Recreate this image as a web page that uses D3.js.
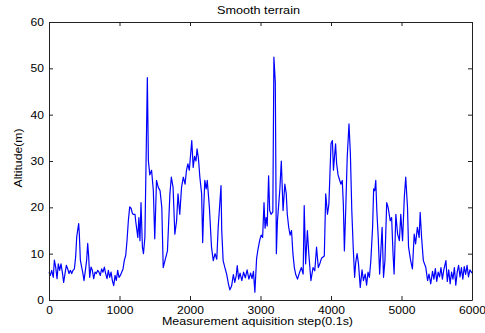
<!DOCTYPE html>
<html>
<head>
<meta charset="utf-8">
<script src="https://cdn.jsdelivr.net/npm/d3@7"></script>
<style>
  body { margin: 0; background: #fff; }
  text { font-family: "Liberation Sans", Arial, sans-serif; fill: #000; }
</style>
</head>
<body>
<script>
const width = 485;
const height = 333;
const margin = {left: 49, right: 13, top: 22, bottom: 33};

const title = "Smooth terrain";
const x_label = "Measurement aquisition step(0.1s)";
const y_label = "Altitude(m)";
const x_ticks = [0, 1000, 2000, 3000, 4000, 5000, 6000];
const y_ticks = [0, 10, 20, 30, 40, 50, 60];

const steps = [
  0, 19, 38, 61, 76, 95, 114, 132, 151, 170, 189, 208, 227, 246, 265, 284, 303, 322, 341, 360,
  378, 393, 407, 421, 430, 445, 463, 478, 497, 516, 534, 549, 563, 577, 596, 615, 634, 653, 672, 690,
  709, 728, 747, 766, 785, 804, 823, 842, 861, 880, 899, 918, 937, 955, 974, 993, 1012, 1031, 1050, 1069,
  1088, 1107, 1126, 1145, 1164, 1183, 1195, 1220, 1230, 1260, 1275, 1290, 1305, 1325, 1340, 1360, 1375, 1395, 1410, 1430,
  1455, 1480, 1500, 1525, 1550, 1575, 1600, 1620, 1645, 1680, 1715, 1735, 1760, 1785, 1810, 1830, 1855, 1880, 1905, 1930,
  1950, 1970, 1990, 2025, 2045, 2065, 2085, 2100, 2120, 2140, 2165, 2180, 2195, 2210, 2230, 2245, 2275, 2305, 2330, 2355,
  2380, 2400, 2440, 2450, 2470, 2495, 2520, 2545, 2565, 2590, 2615, 2635, 2655, 2670, 2690, 2710, 2735, 2760, 2785, 2810,
  2835, 2860, 2880, 2900, 2920, 2945, 2965, 2990, 3010, 3030, 3050, 3065, 3080, 3095, 3115, 3130, 3150, 3175, 3190, 3210,
  3225, 3240, 3255, 3275, 3295, 3320, 3345, 3365, 3380, 3400, 3420, 3440, 3460, 3480, 3500, 3525, 3555, 3580, 3605, 3620,
  3640, 3665, 3685, 3715, 3745, 3770, 3795, 3820, 3845, 3865, 3905, 3925, 3950, 3970, 4000, 4020, 4035, 4050, 4065, 4080,
  4100, 4120, 4140, 4160, 4175, 4190, 4210, 4230, 4255, 4275, 4295, 4315, 4335, 4350, 4370, 4390, 4415, 4440, 4460, 4485,
  4505, 4525, 4545, 4565, 4590, 4605, 4620, 4635, 4650, 4670, 4690, 4710, 4725, 4745, 4765, 4790, 4810, 4840, 4860, 4880,
  4895, 4920, 4945, 4970, 4990, 5015, 5040, 5060, 5085, 5100, 5130, 5155, 5180, 5200, 5225, 5250, 5265, 5285, 5310, 5345,
  5370, 5390, 5415, 5440, 5460, 5480, 5500, 5520, 5540, 5560, 5580, 5600, 5630, 5650, 5670, 5690, 5710, 5730, 5750, 5770,
  5790, 5810, 5830, 5850, 5870, 5890, 5910, 5930, 5950, 5970, 6000
];

// altitude (m) at each step
const altitude = [
  6, 5.3, 6.4, 4.9, 8.6, 7.1, 4.6, 7.8, 6.4, 7.8, 6, 3.8, 5.7, 7.5, 6.7, 5.7, 6.4, 5.7, 6.4, 6.7,
  9.3, 13.6, 15.1, 16.5, 14.3, 8.6, 7.1, 6, 4.2, 6.4, 8.6, 12.2, 9.3, 4.9, 7.1, 6.4, 4.6, 6, 5.7, 6.4,
  6, 5.3, 6.7, 6, 7.1, 5.7, 4.6, 6.4, 4.9, 6, 4.2, 3.1, 5.3, 4.2, 6.4, 4.9, 5.3, 6, 6.7, 8.6,
  9.6, 12.9, 17.2, 20.1, 19.8, 18.7, 18.5, 18.5, 17, 13.5, 17.8, 12.8, 21, 11.4, 10, 13.5, 28, 48, 30, 27,
  28, 23.6, 13.2, 25.8, 24.3, 23.6, 20, 7, 8.5, 10.6, 22.9, 26.5, 24.3, 14.2, 17.1, 22.9, 18.5, 24.3, 26.5, 25,
  28, 29.4, 28, 34.4, 28.6, 31, 30, 32.6, 30.5, 26.5, 22.9, 12.4, 20, 25.8, 24, 25.8, 20, 11.4, 8.5, 10,
  8.8, 15.7, 24.7, 15, 8.5, 7, 5.6, 3.5, 2.2, 3, 5.5, 3.8, 5.2, 7.4, 4.5, 5.8, 4.2, 6, 4.8, 6.5,
  4.5, 5.8, 4.6, 6.2, 1.7, 9, 11, 13, 14, 13.5, 21, 15.5, 17.8, 16, 26.8, 19.3, 18.5, 19, 52.4, 47,
  10, 17, 20, 24, 30, 19.3, 25, 23, 18.5, 15.7, 14, 15, 10, 7, 5.5, 4.5, 6, 7, 5.6, 20.4,
  7.8, 15, 10, 4.2, 7, 6.3, 11.4, 7, 8, 9, 9.5, 22.9, 18.5, 20.7, 33.7, 34.4, 28, 31, 33.7, 29.4,
  27, 26, 25, 25.8, 20.7, 10.6, 20, 30.8, 38, 31.5, 19.3, 11.4, 4.9, 8, 10, 7.8, 2.7, 6.5, 4.2, 5.6,
  3.2, 6, 4.9, 8.5, 15.7, 24, 23.6, 25.8, 19.3, 13.5, 5.6, 11.4, 15.7, 4.9, 8.5, 21, 20, 17.1, 17.8, 10,
  5.6, 18.5, 14.2, 12.8, 18.5, 12.8, 22.2, 26.5, 20, 11.4, 8.5, 6.7, 14.2, 12.1, 15.7, 13.5, 18.9, 13.5, 8.5, 7,
  4.2, 5.6, 3.5, 6.2, 4.5, 6.8, 4, 6, 5, 7, 4.5, 6.5, 8.5, 4, 6.5, 3.5, 6, 4.5, 7, 3.2,
  6, 7.5, 5, 7, 4.5, 7.2, 5.5, 7.5, 5, 6.5, 5.8
];

let svg = d3.select("body").append("svg")
	.attr("width", width)
	.attr("height", height);

let xScale = d3.scaleLinear()
	.domain([0, 6000])
	.range([margin.left, width - margin.right]);
let yScale = d3.scaleLinear()
	.domain([0, 60])
	.range([height - margin.bottom, margin.top]);

// the curve
let line = d3.line()
	.x(function (d, i) { return xScale(steps[i]); })
	.y(function (d) { return yScale(d); });

svg.append("path")
	.datum(altitude)
	.attr("d", line)
	.attr("fill", "none")
	.attr("stroke", "#0000ff")
	.attr("stroke-width", 1.2)
	.attr("stroke-linejoin", "round");

// matlab style box: ticks inside on all four sides
function style_axis(g) {
	g.selectAll(".domain").attr("stroke", "#222");
	g.selectAll(".tick line").attr("stroke", "#222");
	g.selectAll("text")
		.style("font-family", "'Liberation Sans', Arial, sans-serif")
		.style("font-size", "10.5px")
		.attr("fill", "#111")
		.attr("transform", "scale(1.15,1)");
}

svg.append("g")
	.attr("transform", "translate(0," + yScale(0) + ")")
	.call(d3.axisBottom(xScale).tickValues(x_ticks).tickFormat(d3.format("d")).tickSize(-4).tickSizeOuter(0).tickPadding(7))
	.call(style_axis);
svg.append("g")
	.attr("transform", "translate(0," + yScale(60) + ")")
	.call(d3.axisTop(xScale).tickValues(x_ticks).tickSize(-4).tickSizeOuter(0).tickFormat(""))
	.call(style_axis);
svg.append("g")
	.attr("transform", "translate(" + xScale(0) + ",0)")
	.call(d3.axisLeft(yScale).tickValues(y_ticks).tickSize(-4).tickSizeOuter(0).tickPadding(5))
	.call(style_axis);
svg.append("g")
	.attr("transform", "translate(" + xScale(6000) + ",0)")
	.call(d3.axisRight(yScale).tickValues(y_ticks).tickSize(-4).tickSizeOuter(0).tickFormat(""))
	.call(style_axis);

// scaling the tick text horizontally moves it, so put it back where d3 wants it
svg.selectAll(".tick text").each(function () {
	let t = d3.select(this);
	let anchor = this.parentNode.parentNode.getAttribute("text-anchor");
	let x = +(t.attr("x") || 0);
	t.attr("transform", null)
		.attr("textLength", null);
	let w = this.getComputedTextLength();
	t.attr("textLength", w * 1.15)
		.attr("lengthAdjust", "spacingAndGlyphs");
	if (anchor === "end") t.attr("x", x);
});

// labels
let mid_x = (xScale(0) + xScale(6000)) / 2;
svg.append("text")
	.attr("x", mid_x - 2)
	.attr("y", 14)
	.attr("text-anchor", "middle")
	.attr("textLength", 83)
	.attr("lengthAdjust", "spacingAndGlyphs")
	.style("font-size", "10.5px")
	.text(title);

svg.append("text")
	.attr("x", mid_x - 3)
	.attr("y", 325)
	.attr("text-anchor", "middle")
	.attr("textLength", 191)
	.attr("lengthAdjust", "spacingAndGlyphs")
	.style("font-size", "11px")
	.text(x_label);

svg.append("text")
	.attr("transform", "translate(22," + (yScale(30) - 3) + ") rotate(-90)")
	.attr("text-anchor", "middle")
	.attr("textLength", 59)
	.attr("lengthAdjust", "spacingAndGlyphs")
	.style("font-size", "10.5px")
	.text(y_label);
</script>
</body>
</html>
